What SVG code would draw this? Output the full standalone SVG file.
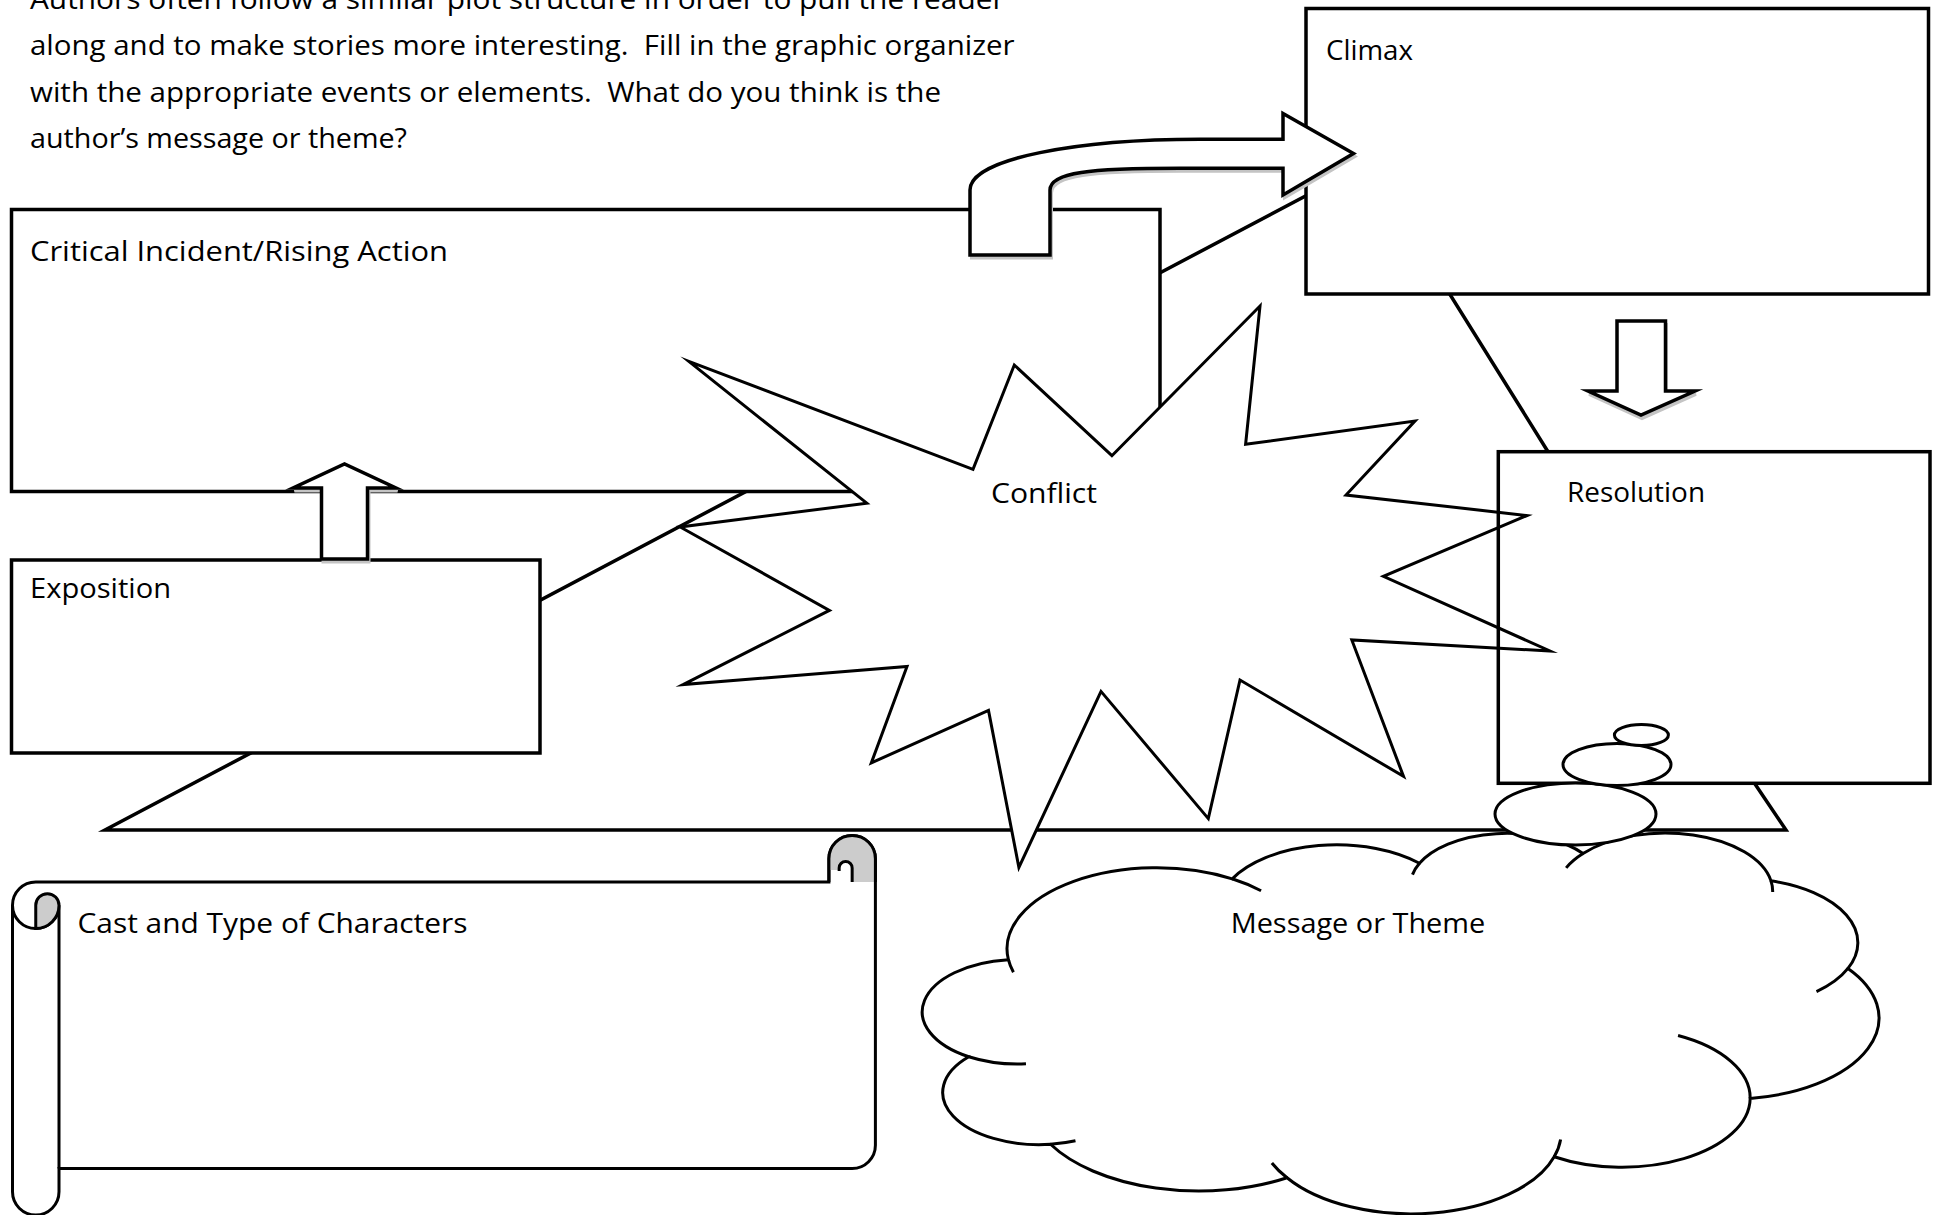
<svg xmlns="http://www.w3.org/2000/svg" width="1937" height="1215" viewBox="0 0 1937 1215">
<style>
.sh{fill:#fff;stroke:#000;stroke-width:3.5;stroke-linejoin:miter;stroke-miterlimit:10}
.thin{fill:#fff;stroke:#000;stroke-width:3}
.ol{fill:none;stroke:#000;stroke-width:3}
.shadow{fill:#c4c4c4;stroke:#c4c4c4;stroke-width:3}
.gray{fill:#cccccc;stroke:#000;stroke-width:3}
.t{font-family:"Open Sans",sans-serif;font-size:28px;fill:#000;white-space:pre}
</style>
<rect width="1937" height="1215" fill="#fff"/>

<g id="intro">
<text class="t" x="30" y="9" textLength="974.6" lengthAdjust="spacingAndGlyphs">Authors often follow a similar plot structure in order to pull the reader</text>
<text class="t" x="30" y="55" textLength="984.6" lengthAdjust="spacingAndGlyphs" xml:space="preserve">along and to make stories more interesting.  Fill in the graphic organizer</text>
<text class="t" x="30" y="101.5" textLength="911" lengthAdjust="spacingAndGlyphs" xml:space="preserve">with the appropriate events or elements.  What do you think is the</text>
<text class="t" x="30" y="148" textLength="377" lengthAdjust="spacingAndGlyphs">author’s message or theme?</text>
</g>

<g id="plot-line">
<path class="sh" d="M1548,451.7 L1368,163 L105,830 L1786,830 L1754.5,783.3"/>
</g>

<g id="critical-incident">
<rect class="sh" x="11.5" y="209.5" width="1148.5" height="282"/>
<text class="t" x="30" y="261" textLength="418" lengthAdjust="spacingAndGlyphs">Critical Incident/Rising Action</text>
</g>

<g id="exposition">
<rect class="sh" x="11.5" y="560" width="528.5" height="193"/>
<text class="t" x="30" y="598" textLength="141" lengthAdjust="spacingAndGlyphs">Exposition</text>
</g>

<g id="climax">
<rect class="sh" x="1306" y="8.5" width="622.5" height="285.5"/>
<text class="t" x="1326" y="60" textLength="87" lengthAdjust="spacingAndGlyphs">Climax</text>
</g>

<g id="connectors">
<g id="arrow-exposition-critical">
<path class="shadow" transform="translate(1.5,3)" d="M321.5,559 L321.5,488 L293,488 L344.5,464 L396,488 L367.5,488 L367.5,559 Z"/>
<path class="sh" d="M321.5,559 L321.5,488 L293,488 L344.5,464 L396,488 L367.5,488 L367.5,559 Z"/>
</g>
<g id="arrow-critical-climax">
<path class="shadow" transform="translate(1.5,3)" d="M970,255 L970,190 C970,158 1080,139.3 1200,139.3 L1283,139.3 L1283,113.5 L1353.5,153.5 L1283,195 L1283,168.3 L1180,168.3 C1090,168.3 1050,172 1050,190 L1050,255 Z"/>
<path class="sh" d="M970,255 L970,190 C970,158 1080,139.3 1200,139.3 L1283,139.3 L1283,113.5 L1353.5,153.5 L1283,195 L1283,168.3 L1180,168.3 C1090,168.3 1050,172 1050,190 L1050,255 Z"/>
</g>
<g id="arrow-climax-resolution">
<path class="shadow" transform="translate(1,3.5)" d="M1617,321 L1665.5,321 L1665.5,391 L1695,391 L1641,415 L1588,391 L1617,391 Z"/>
<path class="sh" d="M1617,321 L1665.5,321 L1665.5,391 L1695,391 L1641,415 L1588,391 L1617,391 Z"/>
</g>
</g>

<g id="conflict">
<polygon class="thin" stroke-linejoin="miter" stroke-miterlimit="12" points="688.8,361.4 973,469.3 1014.3,365 1111.9,455.7 1260,306 1245.6,444.3 1415,421 1346,495 1527,515.5 1383.4,576.4 1550,651 1351.8,640 1403.5,776.4 1240,680 1208.3,818.6 1101,691.4 1018.9,867.5 988.5,710.4 871.3,762.9 907,666.4 683,684.6 829.4,610.4 680.2,527 866.8,503.2"/>
<text class="t" x="991" y="503" textLength="106" lengthAdjust="spacingAndGlyphs">Conflict</text>
</g>

<g id="resolution">
<rect x="1498.3" y="451.7" width="431.7" height="331.6" fill="none" stroke="#000" stroke-width="3.5"/>
<text class="t" x="1567" y="501.5" textLength="138" lengthAdjust="spacingAndGlyphs">Resolution</text>
</g>

<g id="message-theme">
<g transform="translate(922,833) scale(0.022153,0.0088194)">
<path fill="#fff" stroke="#000" stroke-width="3" vector-effect="non-scaling-stroke" d="M3900,14370 A6753,9190 0 0 1 14005,5203 A5333,7267 0 0 1 22456,3432 A4365,5945 0 0 1 29839,2330 A4857,6595 0 0 1 38324,5426 A5333,7273 0 0 1 41798,15354 A6775,9220 0 0 1 37384,30097 A5785,7867 0 0 1 28537,36708 A6752,9215 0 0 1 16478,39090 A7720,10543 0 0 1 5802,35295 A4360,5918 0 0 1 2111,25373 A4345,5945 0 0 1 3900,14370 Z"/>
<path fill="none" stroke="#000" stroke-width="3" vector-effect="non-scaling-stroke" d="M4693,26177 A4345,5945 0 0 1 2111,25373 M6928,34899 A4360,5918 0 0 1 5802,35295 M16478,39090 A6752,9215 0 0 1 15793,37418 M28827,34751 A6752,9215 0 0 1 28537,36708 M34129,22954 A5785,7867 0 0 1 37384,30097 M41798,15354 A5333,7273 0 0 1 40377,17985 M38324,5426 A4857,6595 0 0 1 38400,6690 M29078,3952 A4857,6595 0 0 1 29839,2330 M22141,4720 A4365,5945 0 0 1 22456,3432 M14000,5192 A6753,9190 0 0 1 15306,6552 M4127,15789 A6753,9190 0 0 1 3900,14370"/>
</g>
<ellipse class="thin" cx="1575.5" cy="814" rx="80.5" ry="31"/>
<ellipse class="thin" cx="1617" cy="764.5" rx="54" ry="21"/>
<ellipse class="thin" cx="1641.4" cy="735" rx="27" ry="10.5"/>
<text class="t" x="1230.7" y="933" textLength="254.6" lengthAdjust="spacingAndGlyphs">Message or Theme</text>
</g>

<g id="characters">
<path class="thin" d="M12.5,905.25 A23.25,23.25 0 0 1 35.75,882 L828.9,882 L828.9,858.75 A23.25,23.25 0 0 1 875.4,858.75 L875.4,1145.25 A23.25,23.25 0 0 1 852.15,1168.5 L59,1168.5 L59,1191.75 A23.25,23.25 0 0 1 12.5,1191.75 Z"/>
<path class="ol" d="M59,905.25 L59,1168.5 M12.5,905.25 A23.25,23.25 0 0 0 59,905.25"/>
<path class="gray" d="M35.75,905.25 A11.6,11.6 0 0 1 59,905.25 A23.25,23.25 0 0 1 35.75,928.5 Z"/>
<path fill="#cccccc" stroke="none" d="M852.15,882 L852.15,868 A6.5,6.5 0 0 0 839.15,868 L839.15,870 L828.9,870 L828.9,858.75 A23.25,23.25 0 0 1 875.4,858.75 L875.4,882 Z"/>
<path class="ol" d="M828.9,882 L828.9,858.75 A23.25,23.25 0 0 1 875.4,858.75 L875.4,882 M852.15,882 L852.15,868 A6.5,6.5 0 0 0 839.15,868 L839.15,871"/>
<text class="t" x="77.5" y="933" textLength="390" lengthAdjust="spacingAndGlyphs">Cast and Type of Characters</text>
</g>
</svg>
